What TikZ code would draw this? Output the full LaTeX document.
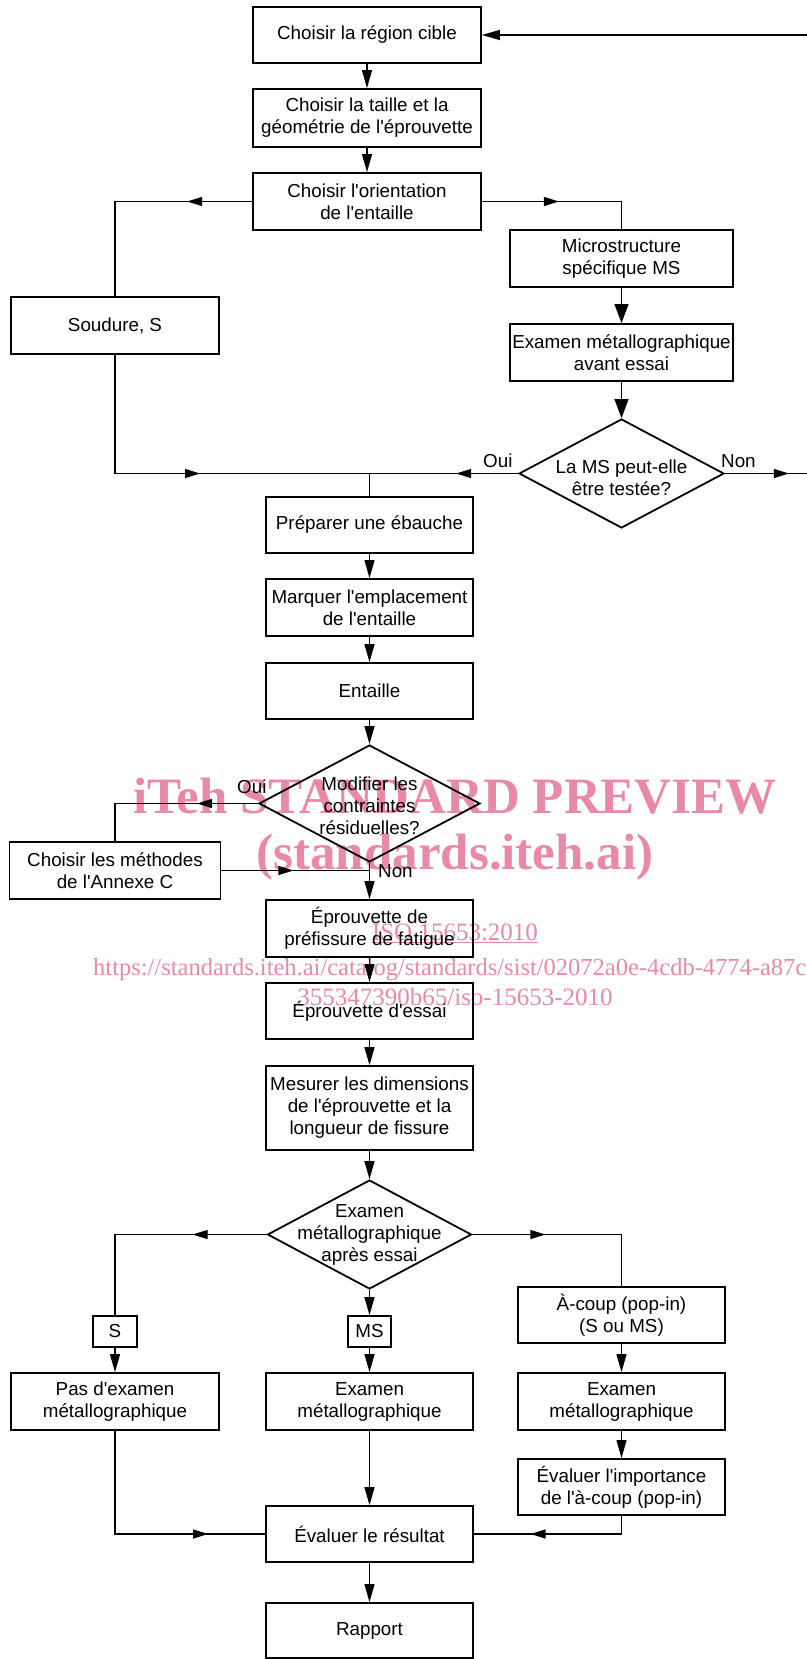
\documentclass[tikz,border=0pt]{standalone}
\usepackage{fontspec}
\setmainfont{Liberation Sans}
\newfontfamily\wmserif{Liberation Serif}
\usetikzlibrary{arrows.meta,shapes.geometric}
\definecolor{wmpink}{RGB}{233,137,166}
\newcommand\boxfont{\fontsize{18.8}{22}\selectfont}
\newcommand\ap{\textquotesingle}
\tikzset{
  box/.style={draw, line width=1.8pt, align=center, inner sep=0pt, font=\boxfont},
  dia/.style={draw, diamond, line width=1.8pt, inner sep=0pt},
  dtext/.style={align=center, inner sep=0pt, font=\boxfont},
  lbl/.style={inner sep=0pt, font=\boxfont, anchor=base west},
  con/.style={line width=1.2pt},
  arr/.style={con, -{Triangle[length=18pt,width=10pt]}},
  barr/.style={con, -{Triangle[length=19pt,width=14pt]}},
  marr/.style={con, -{Triangle[length=15pt,width=9pt]}},
  wmbig/.style={inner sep=0pt, anchor=base, text=wmpink, font=\wmserif\bfseries\fontsize{51}{56}\selectfont},
  wmsmall/.style={inner sep=0pt, anchor=base, text=wmpink, font=\wmserif\fontsize{25}{28}\selectfont},
}
\begin{document}
\begin{tikzpicture}[x=1pt,y=-1pt]
\useasboundingbox (0,0) rectangle (806,1659);

% watermark (behind)
\node[wmbig] (wm1) at (455,813) {iTeh STANDARD PREVIEW};
\node[wmbig] (wm2) at (455,869) {(standards.iteh.ai)};
\node[wmsmall] (wm3) at (455,940) {\underline{ISO 15653:2010}};
\node[wmsmall, anchor=base west, font=\wmserif\fontsize{24.5}{28}\selectfont] (wm4) at (93,975) {https://standards.iteh.ai/catalog/standards/sist/02072a0e-4cdb-4774-a87c};
\node[wmsmall] (wm5) at (455,1005) {355347390b65/iso-15653-2010};

% boxes
\node[box, minimum width=228, minimum height=56] (b1) at (367,35) {Choisir la région cible};
\node[box, minimum width=228, minimum height=58] (b2) at (367,118) {Choisir la taille et la\\géométrie de l\ap éprouvette};
\node[box, minimum width=228, minimum height=57] (b3) at (367,201.5) {Choisir l\ap orientation\\de l\ap entaille};
\node[box, minimum width=223, minimum height=57] (ms) at (621.5,258.5) {Microstructure\\spécifique MS};
\node[box, minimum width=223, minimum height=57] (exa) at (621.5,352.5) {Examen métallographique\\avant essai};
\node[dia, minimum width=205, minimum height=109] (d1) at (621.5,473.5) {};
\node[dtext] (d1t) at ([yshift=-4pt]d1.center) {La MS peut-elle\\être testée?};
\node[box, minimum width=208, minimum height=57] (sou) at (115,325.5) {Soudure, S};
\node[box, minimum width=207, minimum height=56] (prep) at (369.5,525) {Préparer une ébauche};
\node[box, minimum width=207, minimum height=57] (marq) at (369.5,607.5) {Marquer l\ap emplacement\\de l\ap entaille};
\node[box, minimum width=207, minimum height=56] (ent) at (369.5,691) {Entaille};
\node[dia, minimum width=221, minimum height=117] (d2) at (369.5,803.5) {};
\node[dtext] (d2t) at ([yshift=-2pt]d2.center) {Modifier les\\contraintes\\résiduelles?};
\node[box, minimum width=211, minimum height=57] (meth) at (115,870.5) {Choisir les méthodes\\de l\ap Annexe C};
\node[box, minimum width=207, minimum height=57] (pref) at (369.5,928.5) {Éprouvette de\\préfissure de fatigue};
\node[box, minimum width=207, minimum height=56] (ess) at (369.5,1011) {Éprouvette d\ap essai};
\node[box, minimum width=207, minimum height=84] (mes) at (369.5,1108) {Mesurer les dimensions\\de l\ap éprouvette et la\\longueur de fissure};
\node[dia, minimum width=204, minimum height=109] (d3) at (369.5,1234.5) {};
\node[dtext] (d3t) at (d3.center) {Examen\\métallographique\\après essai};
\node[box, minimum width=44, minimum height=31] (sbox) at (115,1331.5) {S};
\node[box, minimum width=43, minimum height=31] (msbox) at (369.5,1331.5) {MS};
\node[box, minimum width=207, minimum height=56] (acoup) at (621.5,1315) {À-coup (pop-in)\\(S ou MS)};
\node[box, minimum width=208, minimum height=57] (pas) at (115,1401.5) {Pas d\ap examen\\métallographique};
\node[box, minimum width=207, minimum height=57] (exm) at (369.5,1401.5) {Examen\\métallographique};
\node[box, minimum width=207, minimum height=57] (exr) at (621.5,1401.5) {Examen\\métallographique};
\node[box, minimum width=207, minimum height=56] (evi) at (621.5,1487) {Évaluer l\ap importance\\de l\ap à-coup (pop-in)};
\node[box, minimum width=207, minimum height=56] (evr) at (369.5,1534) {Évaluer le résultat};
\node[box, minimum width=207, minimum height=55] (rap) at (369.5,1630.5) {Rapport};

% labels
\node[lbl] (oui1) at (483,467) {Oui};
\node[lbl] (non1) at (721,467) {Non};
\node[lbl] (oui2) at (237,793) {Oui};
\node[lbl] (non2) at (378,877) {Non};

% free ends at the right edge
\coordinate (rtop) at (810,35);
\coordinate (rmid) at (810,473.5);

% connectors
\draw[arr] (rtop) -- (b1.east);
\draw[arr] (b1.south) -- (b2.north);
\draw[arr] (b2.south) -- (b3.north);
\draw[con] (b3.west) -| (sou.north);
\draw[marr] (b3.west) -- ++(-65,0);
\draw[con] (b3.east) -| (ms.north);
\draw[marr] (b3.east) -- ++(77,0);
\draw[barr] (ms.south) -- (exa.north);
\draw[barr] (exa.south) -- (d1.north);
\draw[con] (sou.south) |- (d1.west);
\draw[marr] (sou.south |- d1.west) -- ++(85,0);
\draw[marr] (d1.west) -- ++(-62,0);
\draw[con] (d1.east) -- (rmid);
\draw[marr] (d1.east) -- ++(64,0);
\draw[con] (prep.north |- d1.west) -- (prep.north);
\draw[arr] (prep.south) -- (marq.north);
\draw[arr] (marq.south) -- (ent.north);
\draw[arr] (ent.south) -- (d2.north);
\draw[con] (d2.west) -| (meth.north);
\draw[marr] (d2.west) -- ++(-61,0);
\draw[con] (meth.east) -- (meth.east -| d2.south);
\draw[marr] (meth.east) -- ++(72,0);
\draw[arr] (d2.south) -- (pref.north);
\draw[arr] (pref.south) -- (ess.north);
\draw[arr] (ess.south) -- (mes.north);
\draw[arr] (mes.south) -- (d3.north);
\draw[con] (d3.west) -| (sbox.north);
\draw[marr] (d3.west) -- ++(-74,0);
\draw[con] (d3.east) -| (acoup.north);
\draw[marr] (d3.east) -- ++(73,0);
\draw[arr] (d3.south) -- (msbox.north);
\draw[arr] (sbox.south) -- (pas.north);
\draw[arr] (msbox.south) -- (exm.north);
\draw[arr] (acoup.south) -- (exr.north);
\draw[arr] (exr.south) -- (evi.north);
\draw[arr] (exm.south) -- (evr.north);
\draw[con] (pas.south) |- (evr.west);
\draw[marr] (pas.south |- evr.west) -- ++(93,0);
\draw[con] (evi.south) |- (evr.east);
\draw[marr] (evi.south |- evr.east) -- ++(-91,0);
\draw[arr] (evr.south) -- (rap.north);
\end{tikzpicture}
\end{document}
